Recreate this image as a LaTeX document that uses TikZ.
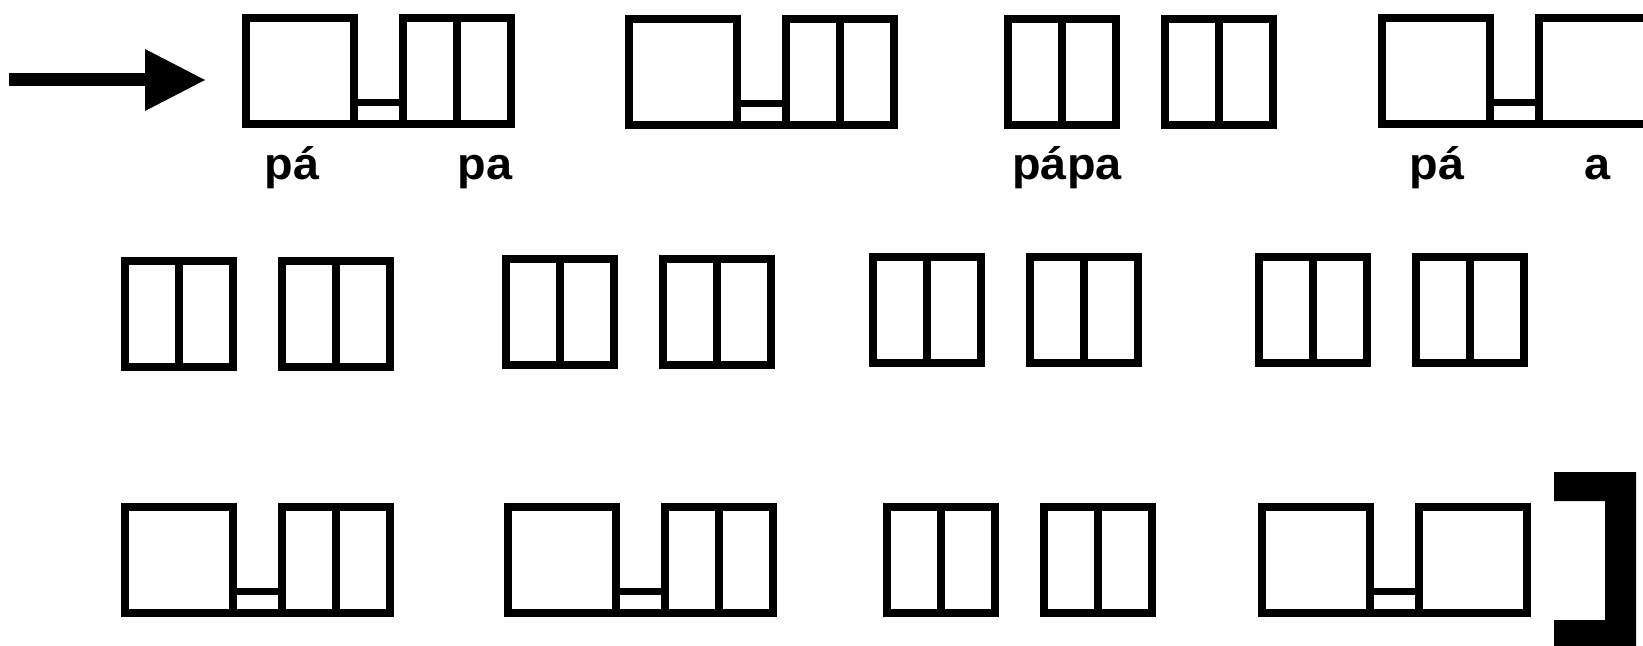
\documentclass[tikz,border=0pt]{standalone}
\usepackage{fontspec}
\newfontfamily\lblfont{Liberation Sans}
\tikzset{
  boxline/.style={line width=7.6pt, line join=miter},
  lbl/.style={font=\lblfont\bfseries\fontsize{45}{45}\selectfont, anchor=base, inner sep=0pt, xscale=1.04},
  pics/twincell/.style={code={
    \draw[boxline] (3.8,3.8) rectangle (112.2,110.2);
    \draw[boxline] (58,3.8) -- (58,110.2);
  }},
  pics/linkbase/.style={code={
    \draw[boxline] (3.8,3.8) rectangle (112.2,110.2);
    \draw[boxline] (160.8,3.8) rectangle (268.7,110.2);
    \draw[boxline] (112.2,88.5) -- (160.8,88.5);
    \draw[boxline] (112.2,110.2) -- (160.8,110.2);
  }},
  pics/linkpair/.style={code={
    \draw[boxline] (3.8,3.8) rectangle (112.2,110.2);
    \draw[boxline] (160.8,3.8) rectangle (268.7,110.2);
    \draw[boxline] (112.2,88.5) -- (160.8,88.5);
    \draw[boxline] (112.2,110.2) -- (160.8,110.2);
    \draw[boxline] (215,3.8) -- (215,110.2);
  }},
}
\begin{document}
\begin{tikzpicture}[x=1pt,y=-1pt]
\useasboundingbox (0,0) rectangle (1643,645);
\fill[white] (0,0) rectangle (1643,645);
\clip (0,0) rectangle (1643,645);

% arrow
\coordinate (arrS) at (9,79.5);
\coordinate (arrT) at (205,80);
\draw[line width=13pt] (arrS) -- ([xshift=-59pt,yshift=0.5pt]arrT);
\fill (arrT) -- ++(-60,-31) -- ++(0,62) -- cycle;

% row 1
\pic at (242,14) {linkpair};
\pic at (625,15) {linkpair};
\pic at (1004,15) {twincell};
\pic at (1161,15) {twincell};
\pic at (1378,14) {linkbase};

\node[lbl] (t1) at (292,179) {pá};
\node[lbl] (t2) at (485,179) {pa};
\node[lbl] (t3) at (1067,179) {pápa};
\node[lbl] (t4) at (1437,179) {pá};
\node[lbl] (t5) at (1597,179) {a};

% row 2
\pic at (121,257) {twincell};
\pic at (278,257) {twincell};
\pic at (502,255) {twincell};
\pic at (659,255) {twincell};
\pic at (869,253) {twincell};
\pic at (1026,253) {twincell};
\pic at (1255,253) {twincell};
\pic at (1412,253) {twincell};

% row 3
\pic at (121,503) {linkpair};
\pic at (504,503) {linkpair};
\pic at (883,503) {twincell};
\pic at (1040,503) {twincell};
\pic at (1258,503) {linkbase};

% bracket
\fill (1554,472) -- (1636,472) -- (1636,660) -- (1554,660) -- (1554,620)
  -- (1605,620) -- (1605,501) -- (1554,501) -- cycle;
\end{tikzpicture}
\end{document}
